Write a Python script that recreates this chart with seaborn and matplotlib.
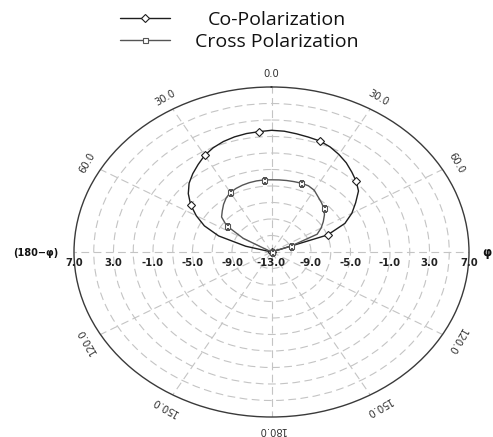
import numpy as np
import matplotlib
matplotlib.use("Agg")
import matplotlib.pyplot as plt
from matplotlib.transforms import ScaledTranslation
import seaborn as sns

# ---------------- data ----------------
angles_deg = [-80, -75, -70, -65, -60, -55, -50, -45, -40, -35, -30, -25,
              -20, -15, -10, -5, 0, 5, 10, 15, 20, 25, 30, 35,
              40, 45, 50, 55, 60, 65, 70, 75, 80, 85, 90, 95]
co_pol = [-13, -10.3, -7.3, -5.5, -4.2, -3.0, -2.0, -1.2, -0.6, -0.05, 0.53, 0.95,
          1.25, 1.45, 1.58, 1.64, 1.75, 1.7, 1.55, 1.42, 1.32, 1.05, 0.65, 0.2,
          -0.35, -0.87, -1.5, -2.6, -3.6, -4.8, -6.95, -13, -13, -13, -13, -13]
cross_pol = [-13, -13, -13, -13, -9.7, -7.45, -6.4, -5.95, -5.45, -5.0, -4.67, -4.5,
             -4.38, -4.3, -4.25, -4.23, -4.25, -4.23, -4.2, -4.17, -4.13, -4.15, -4.35, -4.8,
             -5.15, -5.5, -6.0, -6.6, -7.2, -7.9, -10.9, -13, -13, -13, -13, -13]
series_names = ["Co-Polarization", "Cross Polarization"]

r_min, r_max = -13, 7
radial_label_values = [-9, -5, -1, 3, 7]
angle_label_values = [30, 60, 120, 150]

# ---------------- figure ----------------
sns.set_theme(style="white")
plt.rcParams["font.family"] = ["DejaVu Sans"]

W, H = 493, 437
fig = plt.figure(figsize=(W / 100, H / 100), dpi=100)
ax = fig.add_axes([74 / W, 20 / H, 395 / W, 330 / H], projection="polar")
ax.set_aspect("auto")
ax.set_theta_zero_location("N")
ax.set_theta_direction(-1)
ax.set_rlim(r_min, r_max)

co_color, cross_color = "#1e1e1e", "#555555"
theta = np.deg2rad(angles_deg)
sns.lineplot(x=theta, y=co_pol, ax=ax, sort=False, color=co_color, lw=1.0,
             marker="D", markersize=3.6, markerfacecolor="white",
             markeredgecolor=co_color, markeredgewidth=0.8,
             markevery=slice(5, None, 5), label=series_names[0])
sns.lineplot(x=theta, y=cross_pol, ax=ax, sort=False, color=cross_color, lw=1.0,
             marker="s", markersize=3.6, markerfacecolor="white",
             markeredgecolor=cross_color, markeredgewidth=0.8,
             markevery=slice(5, None, 5), label=series_names[1])

# grids
ax.set_xticks(np.deg2rad(np.arange(0, 360, 30)))
ax.set_xticklabels([""] * 12)
ax.set_yticks(np.arange(-11, 7, 2))
ax.set_yticklabels([""] * 9)
ax.tick_params(length=0)
for gl in ax.xaxis.get_gridlines() + ax.yaxis.get_gridlines():
    gl.set_linestyle((0, (7, 4)))
    gl.set_color("#c4c4c4")
    gl.set_linewidth(0.8)
ax.spines["polar"].set_color("#3a3a3a")
ax.spines["polar"].set_linewidth(1.0)

# radial labels along horizontal axis
off = ScaledTranslation(0, -11 / 100, fig.dpi_scale_trans)
lab_kw = dict(ha="center", va="center", fontsize=7.3, fontweight="bold",
              color="#222222", transform=ax.transData + off, clip_on=False)
ax.text(0, r_min, f"{r_min:.1f}", **lab_kw)
for v in radial_label_values:
    ax.text(np.deg2rad(90), v, f"{v:.1f}", **lab_kw)
    ax.text(np.deg2rad(-90), v, f"{v:.1f}", **lab_kw)

# angular labels
ang_kw = dict(ha="center", va="center", fontsize=7.2, color="#333333",
              rotation_mode="anchor", clip_on=False)
r_lab = r_max + 1.6
ax.text(0, r_lab, "0.0", rotation=0, **ang_kw)
ax.text(np.pi, r_lab, "180.0", rotation=180, **ang_kw)
for a in angle_label_values:
    ax.text(np.deg2rad(a), r_lab, f"{a:.1f}", rotation=-a, **ang_kw)
    ax.text(np.deg2rad(-a), r_lab, f"{a:.1f}", rotation=a, **ang_kw)

ax.text(1.045, 0.497, "φ", transform=ax.transAxes, ha="center", va="center",
        fontsize=8.5, fontweight="bold", color="#111111")
ax.text(-0.096, 0.497, "(180−φ)", transform=ax.transAxes, ha="center", va="center",
        fontsize=7, fontweight="bold", color="#111111")

# legend: handles left-aligned, texts centred (two single-entry legends)
if ax.get_legend() is not None:
    ax.get_legend().remove()
handles, labels = ax.get_legend_handles_labels()
fs_pt = 14
fs_px = fs_pt * 100 / 72
line_left, line_right = 120, 170
text_starts = [208, 195]
tops = [11, 33]
for h, l, ts, top in zip(handles, labels, text_starts, tops):
    lg = fig.legend([h], [l], loc="upper left",
                    bbox_to_anchor=(line_left / W, 1 - top / H),
                    frameon=False, borderpad=0, borderaxespad=0,
                    handlelength=(line_right - line_left) / fs_px,
                    handletextpad=(ts - line_right) / fs_px,
                    prop={"family": "Open Sans", "size": fs_pt})
    for t in lg.get_texts():
        t.set_color("#111111")

fig.savefig("out.png", dpi=100, facecolor="white")
